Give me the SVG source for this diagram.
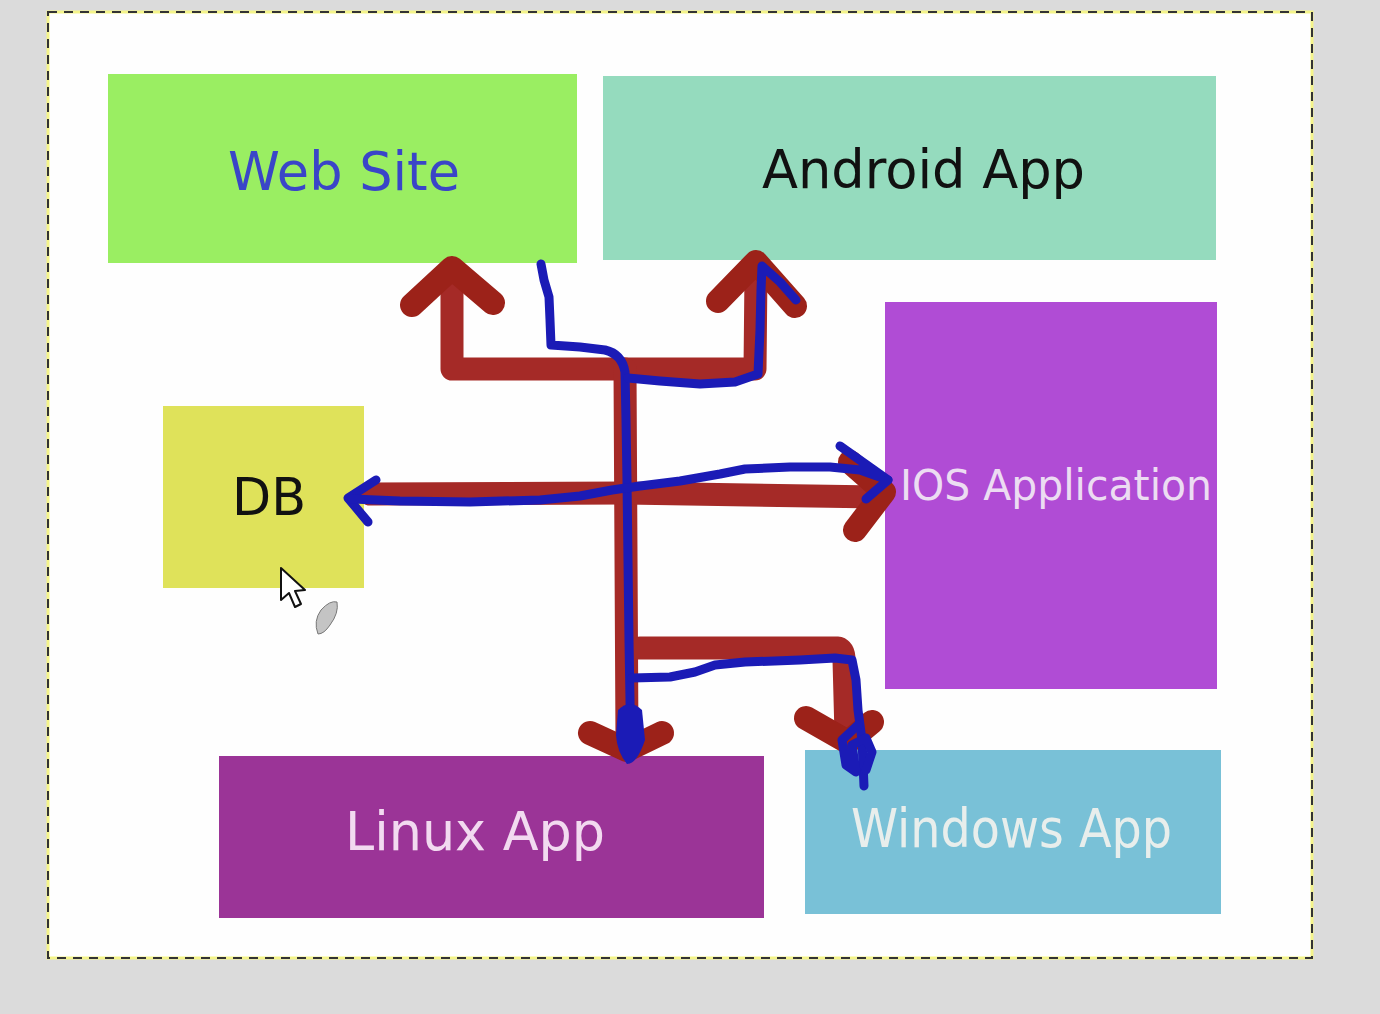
<svg xmlns="http://www.w3.org/2000/svg" width="1380" height="1014" viewBox="0 0 1380 1014">
<style>
.lbl{font-family:"DejaVu Sans","Liberation Sans",sans-serif;}
.red{fill:none;stroke:#a52a27;stroke-width:23;stroke-linecap:round;stroke-linejoin:round;}
.redh{fill:none;stroke:#9c2219;stroke-width:24;stroke-linecap:round;stroke-linejoin:round;}
.blue{fill:none;stroke:#1b1bb6;stroke-width:9;stroke-linecap:round;stroke-linejoin:round;}
</style>
<rect x="0" y="0" width="1380" height="1014" fill="#dbdbdb"/>
<rect x="48" y="12" width="1264" height="946" fill="#fefefe"/>
<rect x="48" y="12" width="1264" height="946" fill="none" stroke="#f4f48a" stroke-width="3"/>
<rect x="48" y="12" width="1264" height="946" fill="none" stroke="#333" stroke-width="2" stroke-dasharray="9 7"/>

<g id="node-website">
<rect x="108" y="74" width="469" height="189" fill="#9aee62"/>
<text class="lbl" x="228" y="190" font-size="54" fill="#3a45c8" textLength="232" lengthAdjust="spacingAndGlyphs">Web Site</text>
</g>
<g id="node-android">
<rect x="603" y="76" width="613" height="184" fill="#95dbbe"/>
<text class="lbl" x="762" y="188" font-size="53" fill="#111" textLength="323" lengthAdjust="spacingAndGlyphs">Android App</text>
</g>
<g id="node-ios">
<rect x="885" y="302" width="332" height="387" fill="#b04cd5"/>
<text class="lbl" x="900" y="500" font-size="42" fill="#ecdcf2" textLength="312" lengthAdjust="spacingAndGlyphs">IOS Application</text>
</g>
<g id="node-db">
<rect x="163" y="406" width="201" height="182" fill="#dfe25a"/>
<text class="lbl" x="232" y="515" font-size="52" fill="#111" textLength="74" lengthAdjust="spacingAndGlyphs">DB</text>
</g>
<g id="node-linux">
<rect x="219" y="756" width="545" height="162" fill="#9b3497"/>
<text class="lbl" x="345" y="850" font-size="54" fill="#f2daf0" textLength="260" lengthAdjust="spacingAndGlyphs">Linux App</text>
</g>
<g id="node-windows">
<rect x="805" y="750" width="416" height="164" fill="#79c1d7"/>
<text class="lbl" x="851" y="847" font-size="53" fill="#e8eeec" textLength="321" lengthAdjust="spacingAndGlyphs">Windows App</text>
</g>

<g id="connectors">
<!-- red arrows -->
<path class="red" d="M452 276 L452 369 L755 369 L756 272"/>
<path class="redh" d="M412 305 L452 268 L493 303"/>
<path class="redh" d="M718 301 L756 262 L795 306"/>
<path class="red" d="M625 369 L627 742"/>
<path class="red" d="M370 494 L625 493 L878 497"/>
<path class="redh" d="M850 462 L884 492 L855 530"/>
<path class="redh" d="M590 733 L627 750 L662 733"/>
<path class="red" d="M640 648 L838 648 Q844 650 844 660 L846 735"/>
<path class="redh" d="M806 718 L848 742 L872 722"/>
<!-- blue strokes -->
<path class="blue" d="M541 264 L544 280 L549 297 L550 320 L551 345 L580 347 L605 350 Q622 354 625 372 L626 420 L627 480 L628 560 L629 640 L630 700 L631 755"/>
<path class="blue" d="M628 378 L660 381 L700 384 L735 382 L758 374 L760 330 L761 290 L762 266 L780 282 L796 300"/>
<path class="blue" d="M376 480 L348 498 L368 522"/>
<path class="blue" d="M352 499 L400 501 L470 502 L540 500 L580 496 L612 490 L640 486 L680 481 L720 474 L745 469 L790 467 L830 467 L860 470 L888 480 L840 446"/>
<path class="blue" d="M888 480 L866 499"/>
<path class="blue" d="M632 678 L670 677 L695 672 L715 665 L745 662 L800 660 L835 658 L852 660 L856 680 L858 710 L862 740 L864 786"/>
<path class="blue" d="M858 725 L842 740 L846 765 L856 772 L852 745 L866 738 L872 752 L866 770"/>
<path d="M618 710 Q630 698 642 710 L645 740 Q637 764 627 764 Q617 752 616 735 Z" fill="#1b1bb6"/>
</g>

<g id="cursor">
<path d="M281 568 L281 600 L289 593 L295 607 L301 604 L295 591 L305 590 Z" fill="#fff" stroke="#111" stroke-width="2" stroke-linejoin="round"/>
<path d="M318 634 Q313 621 321 610 Q330 600 337 602 Q339 613 330 625 Q324 634 318 634 Z" fill="#c4c4c4" stroke="#777" stroke-width="1"/>
</g>
</svg>
